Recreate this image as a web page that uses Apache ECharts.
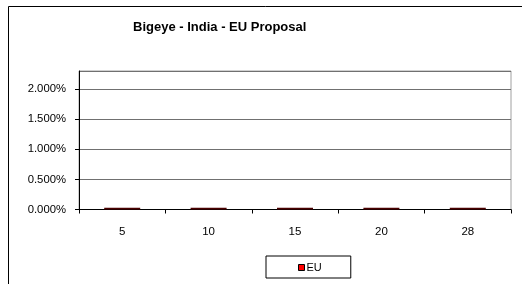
<!DOCTYPE html>
<html>
<head>
<meta charset="utf-8">
<script src="https://cdn.jsdelivr.net/npm/echarts@6/dist/echarts.min.js"></script>
<style>
  html, body { margin: 0; padding: 0; background: #ffffff; }
  #chart_main { width: 522px; height: 284px; }
</style>
</head>
<body>
<div id="chart_main"></div>
<script>
// categories (x axis)
var categories = ["5", "10", "15", "20", "28"];
// EU proposal values (fractions, drawn as %)
var euValues = [0.0003, 0.0003, 0.0003, 0.0003, 0.0003];
// y axis range
var yMin = 0;
var yMax = 0.023;
var yStep = 0.005;

var myChart = echarts.init(document.getElementById("chart_main"));
var option = {
  backgroundColor: "#ffffff",
  animation: false,
  textStyle: { fontFamily: "Liberation Sans, Arial, sans-serif" },
  // outer chart frame (bottom and right are cut off in the picture)
  graphic: [
    {
      type: "rect",
      shape: { x: 8.5, y: 6.5, width: 600, height: 400 },
      style: { fill: "none", stroke: "#000000", lineWidth: 1 },
      silent: true
    }
  ],
  title: {
    text: "Bigeye - India - EU Proposal",
    left: 128,
    top: 16,
    textStyle: {
      fontSize: 13,
      fontWeight: "bold",
      color: "#000000",
      fontFamily: "Liberation Sans, Arial, sans-serif"
    }
  },
  grid: {
    left: 79,
    top: 71,
    right: 11,
    bottom: 74.5,
    show: true,
    borderColor: "#a0a0a0",
    borderWidth: 1
  },
  legend: {
    data: [
      { name: "EU", itemStyle: { color: "#ff0000", borderColor: "#000000", borderWidth: 1 } }
    ],
    left: 266,
    top: 256,
    padding: [6, 29, 5, 32],
    itemWidth: 6,
    itemHeight: 6,
    itemGap: 2,
    icon: "rect",
    borderColor: "#000000",
    borderWidth: 1,
    textStyle: { fontSize: 11, color: "#000000", padding: [0, 0, 0, -3] }
  },
  xAxis: {
    type: "category",
    data: categories,
    boundaryGap: true,
    axisLine: { lineStyle: { color: "#000000", width: 1 } },
    axisTick: { show: true, inside: false, length: 4, lineStyle: { color: "#000000" } },
    axisLabel: { fontSize: 11.5, color: "#000000", margin: 16 },
    splitLine: { show: false }
  },
  yAxis: {
    type: "value",
    min: yMin,
    max: yMax,
    interval: yStep,
    axisLine: { show: true, lineStyle: { color: "#000000", width: 1 } },
    axisTick: { show: true, inside: false, length: 4, lineStyle: { color: "#000000" } },
    axisLabel: {
      fontSize: 11.3,
      color: "#000000",
      margin: 13,
      showMaxLabel: false,
      formatter: function(v) {
        return (v * 100).toFixed(3) + "%";
      }
    },
    splitLine: { show: true, lineStyle: { color: "#707070", width: 1 } }
  },
  series: [
    {
      name: "EU",
      type: "bar",
      data: euValues,
      barWidth: 36,
      itemStyle: { color: "#4a0000" }
    }
  ]
};
myChart.setOption(option);
window.addEventListener("resize", function() {
  myChart.resize();
});
</script>
</body>
</html>
